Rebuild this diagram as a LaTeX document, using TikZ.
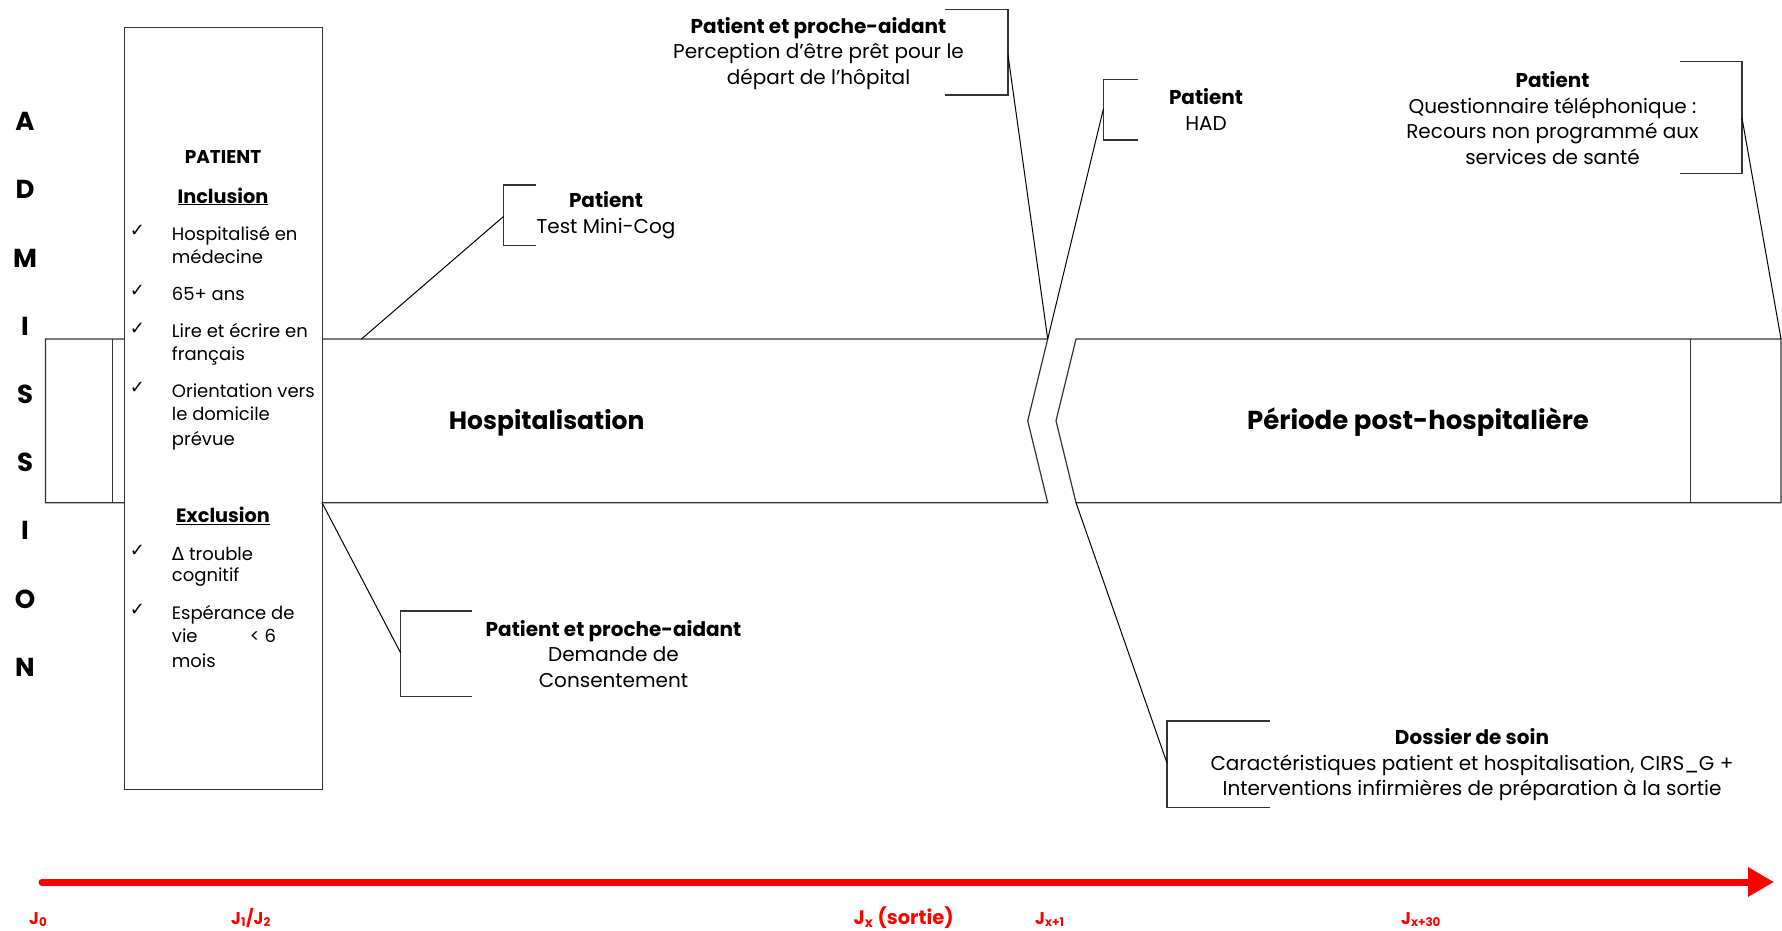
\documentclass[tikz,border=0pt]{standalone}
\usepackage{fontspec}
\setmainfont{Poppins}
\newfontfamily\symfont{DejaVu Sans}
\usetikzlibrary{arrows.meta}
\tikzset{
  frame/.style={draw=black!80, line width=1.2pt},
  link/.style={draw=black, line width=1pt},
  lbl/.style={align=center, inner sep=0pt, font=\fontsize{20}{25.5}\selectfont},
  boxtxt/.style={anchor=base west, inner sep=0pt, font=\fontsize{18}{22}\selectfont},
  boxhead/.style={anchor=base, inner sep=0pt, font=\bfseries\fontsize{19.3}{22}\selectfont},
  chk/.style={inner sep=0pt, font=\symfont\fontsize{18}{18}\selectfont},
  adm/.style={inner sep=0pt, font=\bfseries\fontsize{26}{26}\selectfont},
  period/.style={inner sep=0pt, font=\bfseries\fontsize{25}{25}\selectfont},
  jlab/.style={anchor=base west, inner sep=0pt, text=red, font=\bfseries\fontsize{17}{17}\selectfont},
}
\begin{document}
\begin{tikzpicture}[x=1pt,y=-1pt]
\useasboundingbox (0,0) rectangle (1782,931);

% ---- band coordinates
\coordinate (hTL) at (45.5,339);
\coordinate (hTR) at (1047.7,339);
\coordinate (hTip) at (1027.7,420.8);
\coordinate (hBR) at (1047.7,502.7);
\coordinate (hBL) at (45.5,502.7);
\coordinate (pTL) at (1076,339);
\coordinate (pTR) at (1781,339);
\coordinate (pBR) at (1781,502.7);
\coordinate (pBL) at (1076,502.7);
\coordinate (pTip) at (1056,420.8);

\draw[frame] (hTL) -- (hTR) -- (hTip) -- (hBR) -- (hBL) -- cycle;
\draw[frame] (112.7,339) -- (112.7,502.7);
\draw[frame] (pTL) -- (pTR) -- (pBR) -- (pBL) -- (pTip) -- cycle;
\draw[frame] (1690.6,339) -- (1690.6,502.7);

\node[period] (hosp) at (546.7,422.5) {Hospitalisation};
\node[period, font=\bfseries\fontsize{26}{26}\selectfont] (post) at (1418,422.5) {Période post-hospitalière};

% ---- ADMISSION
\node[adm] (a1) at (25,121.6) {A};
\node[adm] (a2) at (25,189.8) {D};
\node[adm] (a3) at (25,258) {M};
\node[adm] (a4) at (25,326.2) {I};
\node[adm] (a5) at (25,394.4) {S};
\node[adm] (a6) at (25,462.6) {S};
\node[adm] (a7) at (25,530.8) {I};
\node[adm] (a8) at (25,599) {O};
\node[adm] (a9) at (25,667.2) {N};

% ---- PATIENT box
\node[frame, fill=white, anchor=north west, minimum width=198pt, minimum height=761.5pt, inner sep=0pt] (pbox) at (124,27.3) {};
\coordinate (boxBR) at (322,502.7);

\node[boxhead, font=\bfseries\fontsize{18.5}{22}\selectfont] (ptitle) at (223,163) {PATIENT};
\node[boxhead] (incl) at (223,203) {\underline{Inclusion}};
\node[chk] (c1) at (137.5,231) {✓};
\node[boxtxt] (i1a) at (171.7,240) {Hospitalisé en};
\node[boxtxt] (i1b) at (171.7,263) {médecine};
\node[chk] (c2) at (137.5,291) {✓};
\node[boxtxt] (i2) at (171.7,300) {65+ ans};
\node[chk] (c3) at (137.5,328.5) {✓};
\node[boxtxt] (i3a) at (171.7,337.5) {Lire et écrire en};
\node[boxtxt] (i3b) at (171.7,360) {français};
\node[chk] (c4) at (137.5,388) {✓};
\node[boxtxt] (i4a) at (171.7,397) {Orientation vers};
\node[boxtxt] (i4b) at (171.7,420) {le domicile};
\node[boxtxt] (i4c) at (171.7,445) {prévue};

\node[boxhead] (excl) at (223,522.7) {\underline{Exclusion}};
\node[chk] (c5) at (137.5,551) {✓};
\node[boxtxt] (e1a) at (171.7,560) {{\symfont Δ} trouble};
\node[boxtxt] (e1b) at (171.7,581) {cognitif};
\node[chk] (c6) at (137.5,610) {✓};
\node[boxtxt] (e2a) at (171.7,619) {Espérance de};
\node[boxtxt] (e2b) at (171.7,642.7) {\makebox[78pt][l]{vie}< 6};
\node[boxtxt] (e2c) at (171.7,667) {mois};

% ---- Test Mini-Cog
\coordinate (mcA) at (503.5,216.5);
\coordinate (mcS) at (361.5,339);
\draw[frame] (536,185) -- (503.5,185) -- (503.5,245.5) -- (536,245.5);
\node[lbl] (mc) at (606,215) {\textbf{Patient}\\Test Mini-Cog};
\draw[link] (mcS) -- (mcA);

% ---- Demande de consentement
\coordinate (dcA) at (400.7,653);
\draw[frame] (471.7,611) -- (400.7,611) -- (400.7,696.5) -- (471.7,696.5);
\node[lbl] (dc) at (613.5,654) {\textbf{Patient et proche-aidant}\\Demande de\\Consentement};
\draw[link] (boxBR) -- (dcA);

% ---- Perception
\coordinate (peA) at (1008,55);
\draw[frame] (944.5,9.3) -- (1008,9.3) -- (1008,95) -- (944.5,95);
\node[lbl] (pe) at (818.5,53.5) {\textbf{Patient et proche-aidant}\\Perception d’être prêt pour le\\départ de l’hôpital};
\draw[link] (peA) -- (hTR);

% ---- HAD
\coordinate (haA) at (1103.5,108.5);
\draw[frame] (1137.5,79.5) -- (1103.5,79.5) -- (1103.5,140) -- (1137.5,140);
\node[lbl] (ha) at (1206,109.5) {\textbf{Patient}\\HAD};
\draw[link] (hTR) -- (haA);

% ---- Questionnaire
\coordinate (quA) at (1742,118);
\draw[frame] (1679.7,61.5) -- (1742,61.5) -- (1742,173.5) -- (1679.7,173.5);
\node[lbl] (qu) at (1552.5,118) {\textbf{Patient}\\Questionnaire téléphonique :\\Recours non programmé aux\\services de santé};
\draw[link] (quA) -- (pTR);

% ---- Dossier de soin
\coordinate (dsA) at (1167,763);
\draw[frame] (1269.5,721) -- (1167,721) -- (1167,807.5) -- (1269.5,807.5);
\node[lbl] (ds) at (1472,765) {\textbf{Dossier de soin}\\Caractéristiques patient et hospitalisation, CIRS\_G +\\Interventions infirmières de préparation à la sortie};
\draw[link] (pBL) -- (dsA);

% ---- timeline
\coordinate (t0) at (42,882);
\coordinate (t1) at (1774,882);
\draw[red, line width=7pt, line cap=round, -{Triangle[length=26pt,width=28pt]}] (t0) -- (t1);

\node[jlab] (j0) at (29,924) {J\textsubscript{0}};
\node[jlab] (j1) at (231,924) {J\textsubscript{1}/J\textsubscript{2}};
\node[jlab, font=\bfseries\fontsize{19.5}{20}\selectfont] (jx) at (853.5,924) {J\textsubscript{x} (sortie)};
\node[jlab] (jx1) at (1035,924) {J\textsubscript{x+1}};
\node[jlab] (jx30) at (1401,924) {J\textsubscript{x+30}};
\end{tikzpicture}
\end{document}
